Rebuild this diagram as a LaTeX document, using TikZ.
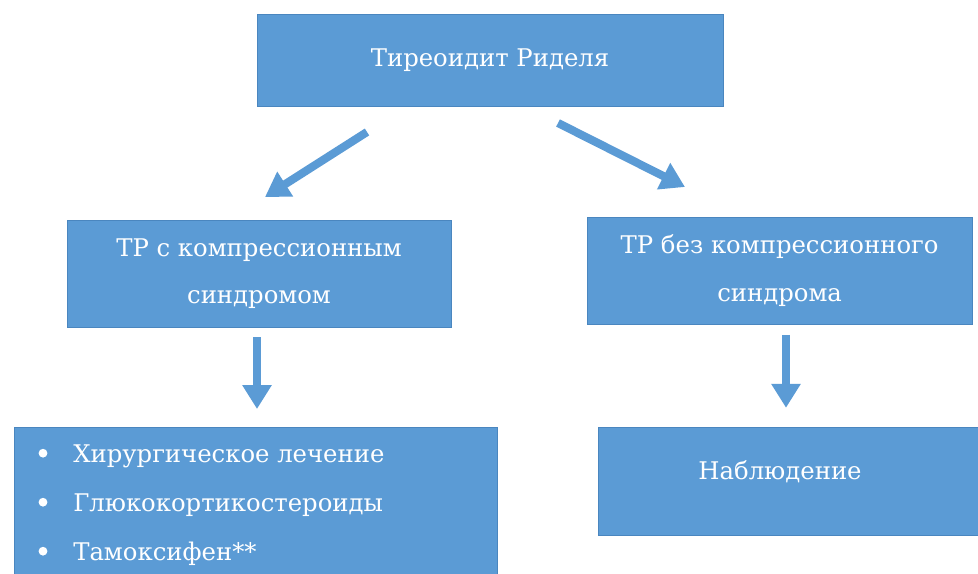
\documentclass[tikz,border=0pt]{standalone}
\usepackage{fontspec}
\setmainfont{DejaVu Serif}
\usepackage{tikz}
\usetikzlibrary{positioning,calc,arrows.meta}
\definecolor{boxblue}{HTML}{5B9BD5}
\definecolor{boxline}{HTML}{4A86BF}
\tikzset{
    blue box/.style={
        draw=boxline,thin,
        fill=boxblue,
        text=white,align=center,
        font=\fontsize{17.3}{34}\selectfont
    },
    big arrow/.style={
        boxblue,line width=5.8pt,
        -{Triangle[width=0.7cm,length=0.6cm]}
    }
}

\begin{document}
\begin{tikzpicture}
\useasboundingbox (0,0) rectangle (24.45,-14.35);
\clip (0,0) rectangle (24.45,-14.35);
\fill[white] (0,0) rectangle (24.45,-14.35);
% boxes
\node[blue box,minimum width=11.65cm,minimum height=2.3cm] (rid) at (12.25,-1.5) {Тиреоидит Риделя};
\node[blue box,minimum width=9.6cm,minimum height=2.675cm] (cmp) at (6.475,-6.84) {ТР с компрессионным\\синдромом};
\node[blue box,minimum width=9.625cm,minimum height=2.675cm] (nocmp) at (19.49,-6.76) {ТР без компрессионного\\синдрома};
\node[blue box,minimum width=12.075cm,minimum height=4cm,anchor=north west] (treat) at (0.35,-10.675) {};
\node[blue box,minimum width=10cm,minimum height=2.7cm,anchor=north west] (obs) at (14.95,-10.675) {};
\node[text=white,font=\fontsize{17.3}{34}\selectfont] (obs_txt) at (19.5,-11.8) {Наблюдение};
% list
\foreach \i/\name in {0/Хирургическое лечение,1/Глюкокортикостероиды,2/Тамоксифен**}{
    \node[circle,fill=white,inner sep=0pt,minimum size=0.22cm] (dot_\i) at (1.075,-11.33-1.225*\i) {};
    \node[text=white,anchor=base west,inner sep=0pt,font=\fontsize{17.3}{34}\selectfont] (item_\i) at (1.825,-11.55-1.225*\i) {\name};
}
% arrows
\coordinate (l_from) at (9.175,-3.3);
\coordinate (l_to) at (6.625,-4.925);
\coordinate (r_from) at (13.95,-3.075);
\coordinate (r_to) at (17.125,-4.675);
\draw[big arrow] (l_from) -- (l_to);
\draw[big arrow] (r_from) -- (r_to);
\draw[big arrow,shorten <=0.25cm,shorten >=0.45cm] ([xshift=-0.05cm]cmp.south) -- ([xshift=-0.05cm]cmp.south |- treat.north);
\draw[big arrow,shorten <=0.27cm,shorten >=0.48cm] ([xshift=0.16cm]nocmp.south) -- ([xshift=0.16cm]nocmp.south |- obs.north);
\end{tikzpicture}
\end{document}
